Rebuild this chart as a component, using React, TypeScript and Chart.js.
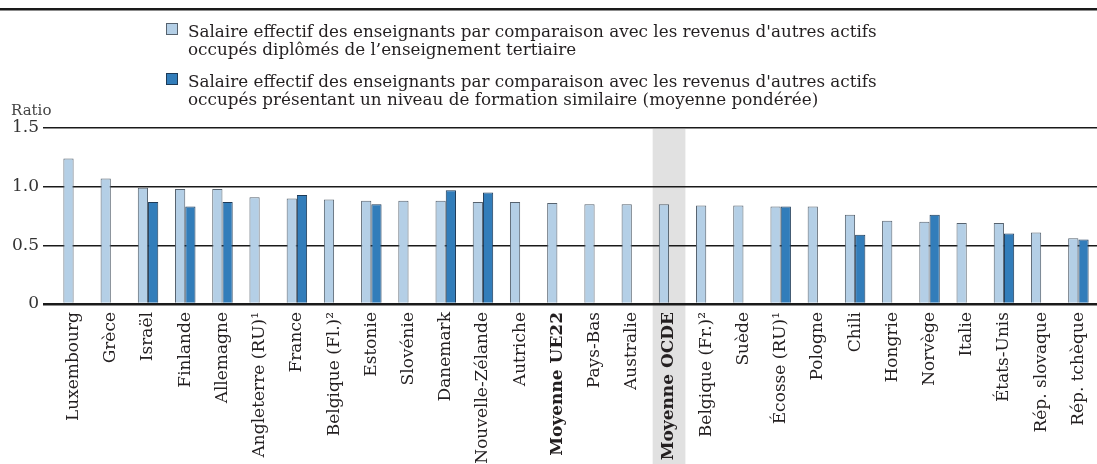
import React, { useEffect, useRef } from "react";
import { Chart, registerables } from "chart.js";

Chart.register(...registerables);

const categories = [
  "Luxembourg", "Grèce", "Israël", "Finlande", "Allemagne", "Angleterre (RU)¹", "France",
  "Belgique (Fl.)²", "Estonie", "Slovénie", "Danemark", "Nouvelle-Zélande", "Autriche",
  "Moyenne UE22", "Pays-Bas", "Australie", "Moyenne OCDE", "Belgique (Fr.)²", "Suède",
  "Écosse (RU)¹", "Pologne", "Chili", "Hongrie", "Norvège", "Italie", "États-Unis",
  "Rép. slovaque", "Rép. tchèque",
];

const tertiaryValues = [
  1.24, 1.07, 0.99, 0.98, 0.98, 0.91, 0.90, 0.89, 0.88, 0.88, 0.88, 0.87, 0.87, 0.86,
  0.85, 0.85, 0.85, 0.84, 0.84, 0.83, 0.83, 0.76, 0.71, 0.70, 0.69, 0.69, 0.61, 0.56,
];

const similarValues: (number | null)[] = [
  null, null, 0.87, 0.83, 0.87, null, 0.93, null, 0.85, null, 0.97, 0.95, null, null,
  null, null, null, null, null, 0.83, null, 0.59, null, 0.76, null, 0.60, null, 0.55,
];

const yTicks = [0, 0.5, 1.0, 1.5];

const legendItems = [
  [
    "Salaire effectif des enseignants par comparaison avec les revenus d'autres actifs",
    "occupés diplômés de l’enseignement tertiaire",
  ],
  [
    "Salaire effectif des enseignants par comparaison avec les revenus d'autres actifs",
    "occupés présentant un niveau de formation similaire (moyenne pondérée)",
  ],
];

const boldCategories = ["Moyenne UE22", "Moyenne OCDE"];
const highlightCategory = "Moyenne OCDE";

const LIGHT = "#b4cfe6";
const LIGHT_BORDER = "#56626e";
const DARK = "#327dba";
const DARK_BORDER = "#1d3a57";
const FONT = "'DejaVu Serif', serif";
const TEXT = "#231f20";

const decorPlugin = {
  id: "decor",
  beforeDraw(chart: any) {
    const { ctx, chartArea } = chart;
    const x = chart.scales.x;
    const idx = categories.indexOf(highlightCategory);
    const cx = x.getPixelForValue(idx);
    const w = (x.width / categories.length) * 0.88;
    ctx.save();
    ctx.fillStyle = "#e1e1e1";
    ctx.fillRect(cx - w / 2, chartArea.top + 1, w, chart.height - chartArea.top);
    ctx.restore();
  },
  afterDraw(chart: any) {
    const { ctx } = chart;
    ctx.save();
    ctx.fillStyle = "#1a1a1a";
    ctx.fillRect(0, 8, chart.width, 2.5);
    const colors = [
      [LIGHT, LIGHT_BORDER],
      [DARK, DARK_BORDER],
    ];
    const boxTops = [23, 73];
    const baselines = [
      [37, 55],
      [87, 105],
    ];
    ctx.font = `16.8px ${FONT}`;
    ctx.textBaseline = "alphabetic";
    ctx.textAlign = "left";
    legendItems.forEach((lines, i) => {
      ctx.fillStyle = colors[i][0];
      ctx.fillRect(166.5, boxTops[i] + 0.5, 11, 11);
      ctx.strokeStyle = colors[i][1];
      ctx.lineWidth = 1;
      ctx.strokeRect(166.5, boxTops[i] + 0.5, 11, 11);
      ctx.fillStyle = TEXT;
      lines.forEach((t, j) => ctx.fillText(t, 188, baselines[i][j]));
    });
    ctx.font = `15px ${FONT}`;
    ctx.fillStyle = "#444";
    ctx.fillText("Ratio", 11, 115);
    ctx.restore();
  },
};

export default function App() {
  const ref = useRef<HTMLCanvasElement>(null);
  useEffect(() => {
    if (!ref.current) return;
    const chart = new Chart(ref.current, {
      type: "bar",
      data: {
        labels: categories,
        datasets: [
          {
            label: legendItems[0].join(" "),
            data: tertiaryValues,
            backgroundColor: LIGHT,
            borderColor: LIGHT_BORDER,
            borderWidth: 1,
          },
          {
            label: legendItems[1].join(" "),
            data: similarValues,
            backgroundColor: DARK,
            borderColor: DARK_BORDER,
            borderWidth: 1,
          },
        ],
      },
      options: {
        responsive: false,
        animation: false,
        layout: { padding: { top: 128, left: 0, right: 0, bottom: 0 } },
        datasets: { bar: { categoryPercentage: 0.55, barPercentage: 1.0 } },
        plugins: { legend: { display: false }, tooltip: { enabled: false } },
        scales: {
          x: {
            grid: { display: false, drawTicks: false },
            border: { display: false },
            afterFit: (s: any) => {
              s.height = 160;
              s.paddingLeft = 0;
              s.paddingRight = 0;
            },
            ticks: {
              autoSkip: false,
              maxRotation: 90,
              minRotation: 90,
              padding: 8,
              color: TEXT,
              font: (c: any) => ({
                family: FONT,
                size: 17,
                weight: boldCategories.includes(categories[c.index]) ? "bold" : "normal",
              }),
            },
          },
          y: {
            min: 0,
            max: 1.5,
            afterFit: (s: any) => {
              s.width = 55;
            },
            afterBuildTicks: (s: any) => {
              s.ticks = yTicks.map((v) => ({ value: v }));
            },
            border: { display: false },
            grid: {
              color: "#1a1a1a",
              lineWidth: (c: any) => (c.tick && c.tick.value === 0 ? 2.5 : 1.5),
              drawTicks: true,
              tickLength: 12,
            },
            ticks: {
              padding: 4,
              color: "#333",
              font: { family: FONT, size: 17 },
              callback: (v: any) => (Number(v) === 0 ? "0" : Number(v).toFixed(1)),
            },
          },
        },
      },
      plugins: [decorPlugin],
    });
    return () => chart.destroy();
  }, []);
  return (
    <div style={{ position: "fixed", left: 0, top: 0, width: 1097, height: 464, background: "#fff" }}>
      <canvas ref={ref} width={1097} height={464} />
    </div>
  );
}
